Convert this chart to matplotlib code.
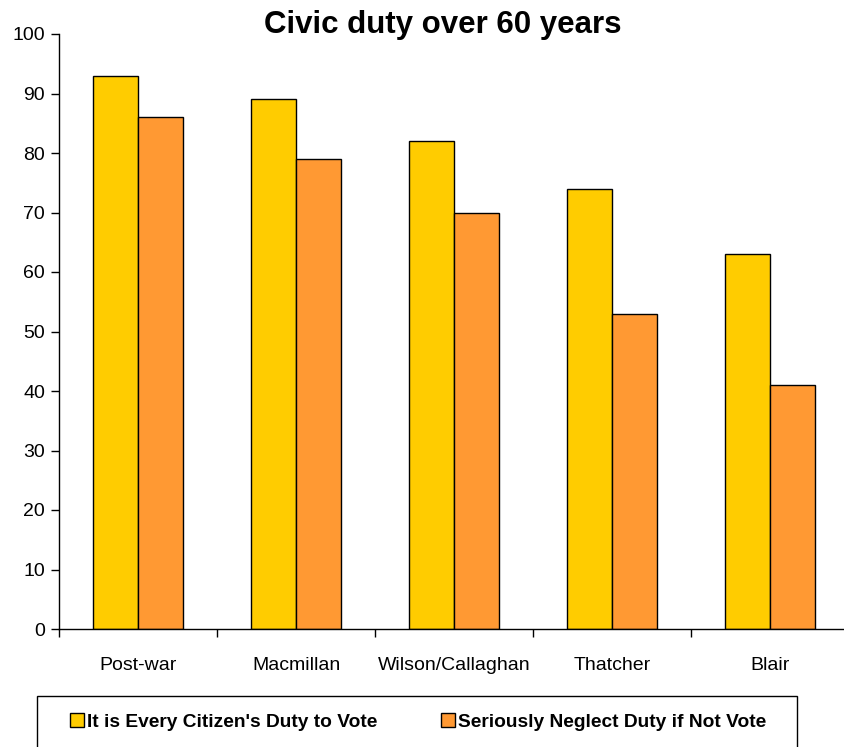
"""Civic duty over 60 years - grouped bar chart."""
import matplotlib
matplotlib.use("Agg")
import numpy as np
import matplotlib.pyplot as plt
from matplotlib.patches import Rectangle

eras = ["Post-war", "Macmillan", "Wilson/Callaghan", "Thatcher", "Blair"]
duty_to_vote = [93, 89, 82, 74, 63]
neglect_duty = [86, 79, 70, 53, 41]
series_labels = ["It is Every Citizen's Duty to Vote",
                 "Seriously Neglect Duty if Not Vote"]

plt.rcParams["font.family"] = ["Liberation Sans", "DejaVu Sans"]

W, H = 845, 747
fig = plt.figure(figsize=(W / 100, H / 100), dpi=100)
ax = fig.add_axes([59 / W, 1 - 629 / H, 790 / W, (629 - 34) / H])

x = np.arange(len(eras))
bw = 0.285
ax.bar(x - bw / 2, duty_to_vote, bw, color="#FFCC00", edgecolor="black",
       linewidth=1, label=series_labels[0])
ax.bar(x + bw / 2, neglect_duty, bw, color="#FF9933", edgecolor="black",
       linewidth=1, label=series_labels[1])

ax.set_xlim(-0.5, len(eras) - 0.5)
ax.set_ylim(0, 100)
ax.set_yticks(range(0, 101, 10))
ax.tick_params(axis="y", labelsize=14, length=6, direction="out", width=1, pad=4)

# boundary ticks between categories, labels centered on the groups
ax.set_xticks(np.arange(-0.5, len(eras), 1.0))
ax.set_xticklabels([])
ax.set_xticks(x, minor=True)
ax.set_xticklabels(eras, minor=True, fontsize=14)
ax.tick_params(axis="x", which="major", length=6, width=1, direction="out")
ax.tick_params(axis="x", which="minor", length=0, pad=20)

for s in ["top", "right"]:
    ax.spines[s].set_visible(False)
for s in ["left", "bottom"]:
    ax.spines[s].set_linewidth(1)

fig.text(443 / W, 1 - 25 / H, "Civic duty over 60 years", ha="center",
         va="center", fontsize=22.5, fontweight="bold")

# legend box at the bottom (runs off the figure edge)
fig.patches.append(Rectangle((37 / W, -0.05), (797 - 37) / W, 0.05 + (747 - 696) / H,
                             transform=fig.transFigure, fill=False,
                             edgecolor="black", linewidth=1))
fig.legend(loc="center", bbox_to_anchor=(418 / W, 1 - 722 / H), ncol=2,
           frameon=False, handlelength=0.75, handleheight=0.75,
           handletextpad=0.15, columnspacing=3.3,
           prop={"size": 13.8, "weight": "bold"})

fig.savefig("out.png", dpi=100)
